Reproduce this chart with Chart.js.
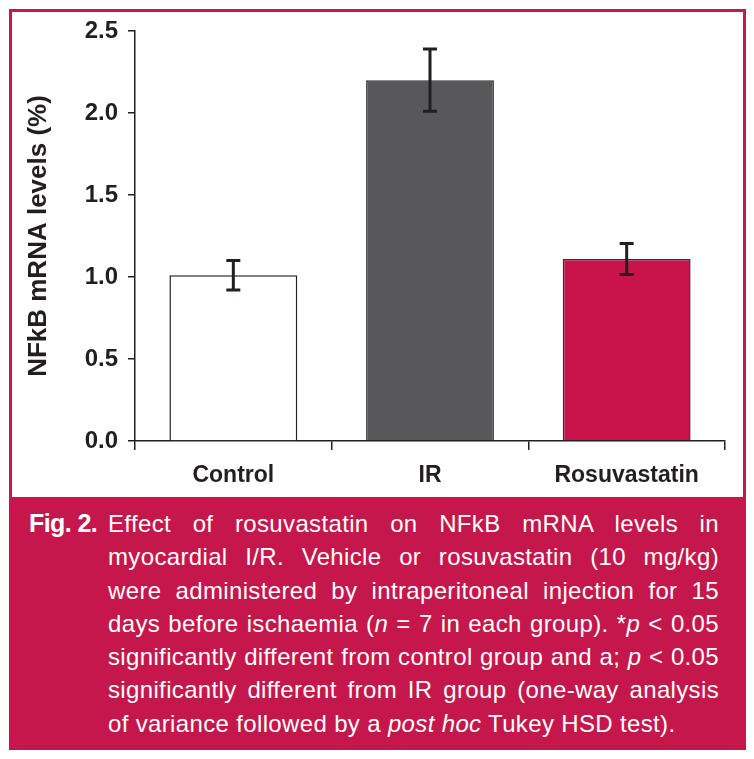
<!DOCTYPE html>
<html>
<head>
<meta charset="utf-8">
<script src="https://cdn.jsdelivr.net/npm/chart.js@4"></script>
<style>
  html, body { margin: 0; padding: 0; background: #fff; }
  body { width: 754px; height: 759px; position: relative; overflow: hidden; font-family: "Liberation Sans", Arial, sans-serif; }
  #plot { position: absolute; left: 0; top: 0; width: 754px; height: 497px; }
  #frame { position: absolute; left: 9px; top: 9px; width: 737px; height: 741px; border: 3px solid #c5174b; box-sizing: border-box; pointer-events: none; }
  #caption { position: absolute; left: 9px; top: 497px; width: 737px; height: 253px; background: #c5174b; color: #fff; box-sizing: border-box; }
  #caption .fig { position: absolute; left: 20px; top: 10px; font-weight: bold; font-size: 25px; line-height: 33.3px; letter-spacing: -0.6px; }
  #caption .body { position: absolute; left: 99px; top: 10px; width: 611px; font-size: 24px; line-height: 33.3px; letter-spacing: 0.35px; }
  #caption .ln { display: block; white-space: nowrap; text-align: justify; text-align-last: justify; }
  #caption .ln.last { text-align-last: left; }
</style>
</head>
<body>
<div id="plot"><canvas id="chart"></canvas></div>
<div id="frame"></div>
<div id="caption">
  <div class="fig">Fig. 2.</div>
  <div class="body">
    <span class="ln">Effect of rosuvastatin on NFkB mRNA levels in</span>
    <span class="ln">myocardial I/R. Vehicle or rosuvastatin (10 mg/kg)</span>
    <span class="ln">were administered by intraperitoneal injection for 15</span>
    <span class="ln">days before ischaemia (<i>n</i> = 7 in each group). *<i>p</i> &lt; 0.05</span>
    <span class="ln">significantly different from control group and a; <i>p</i> &lt; 0.05</span>
    <span class="ln">significantly different from IR group (one-way analysis</span>
    <span class="ln last">of variance followed by a <i>post hoc</i> Tukey HSD test).</span>
  </div>
</div>
<script>
(function () {
    "use strict";

    const groups = ["Control", "IR", "Rosuvastatin"];
    const levels = [1.01, 2.20, 1.11];
    const errors = [0.09, 0.19, 0.095];
    const yTicks = [0, 0.5, 1.0, 1.5, 2.0, 2.5];

    const ink = "#231f20";
    const fills = ["#ffffff", "#58585a", "#c8144a"];
    const edges = [ink, "#2f2f30", "#4a2430"];

    Chart.defaults.font.family = '"Liberation Sans", Arial, sans-serif';
    Chart.defaults.color = ink;

    const errorBars = {
        id: "errorBars",
        afterDatasetsDraw(chart) {
            const ctx = chart.ctx;
            const y = chart.scales.y;
            chart.getDatasetMeta(0).data.forEach((bar, i) => {
                const top = y.getPixelForValue(levels[i] + errors[i]);
                const bot = y.getPixelForValue(levels[i] - errors[i]);
                ctx.save();
                ctx.strokeStyle = ink;
                ctx.lineWidth = 3;
                ctx.beginPath();
                ctx.moveTo(bar.x, top);
                ctx.lineTo(bar.x, bot);
                ctx.moveTo(bar.x - 7, top);
                ctx.lineTo(bar.x + 7, top);
                ctx.moveTo(bar.x - 7, bot);
                ctx.lineTo(bar.x + 7, bot);
                ctx.stroke();
                ctx.restore();
            });
        }
    };

    new Chart(document.getElementById("chart"), {
        type: "bar",
        data: {
            labels: groups,
            datasets: [{
                data: levels,
                backgroundColor: fills,
                borderColor: edges,
                borderWidth: 1.5,
                barPercentage: 0.65,
                categoryPercentage: 1.0
            }]
        },
        options: {
            responsive: true,
            maintainAspectRatio: false,
            animation: false,
            layout: { padding: { top: 31, right: 29, left: 0, bottom: 0 } },
            plugins: { legend: { display: false }, tooltip: { enabled: false } },
            scales: {
                x: {
                    offset: true,
                    grid: { offset: true, drawOnChartArea: false, tickLength: 9, color: ink, lineWidth: 1.5 },
                    border: { color: ink, width: 1.5 },
                    ticks: { color: ink, padding: 12, font: { size: 23, weight: "bold" } },
                    afterFit(scale) { scale.height = 56; }
                },
                y: {
                    min: 0,
                    max: 2.5,
                    afterBuildTicks(scale) { scale.ticks = yTicks.map(v => ({ value: v })); },
                    grid: { drawOnChartArea: false, tickLength: 7, color: ink, lineWidth: 1.5 },
                    border: { color: ink, width: 1.5 },
                    ticks: { color: ink, padding: 10, font: { size: 24, weight: "bold" }, callback: v => Number(v).toFixed(1) },
                    title: { display: true, text: "NFkB mRNA levels (%)", color: ink, font: { size: 26, weight: "bold" }, padding: { top: 23, bottom: 0 } },
                    afterFit(scale) { scale.width = 135; }
                }
            }
        },
        plugins: [errorBars]
    });
})();
</script>
</body>
</html>
